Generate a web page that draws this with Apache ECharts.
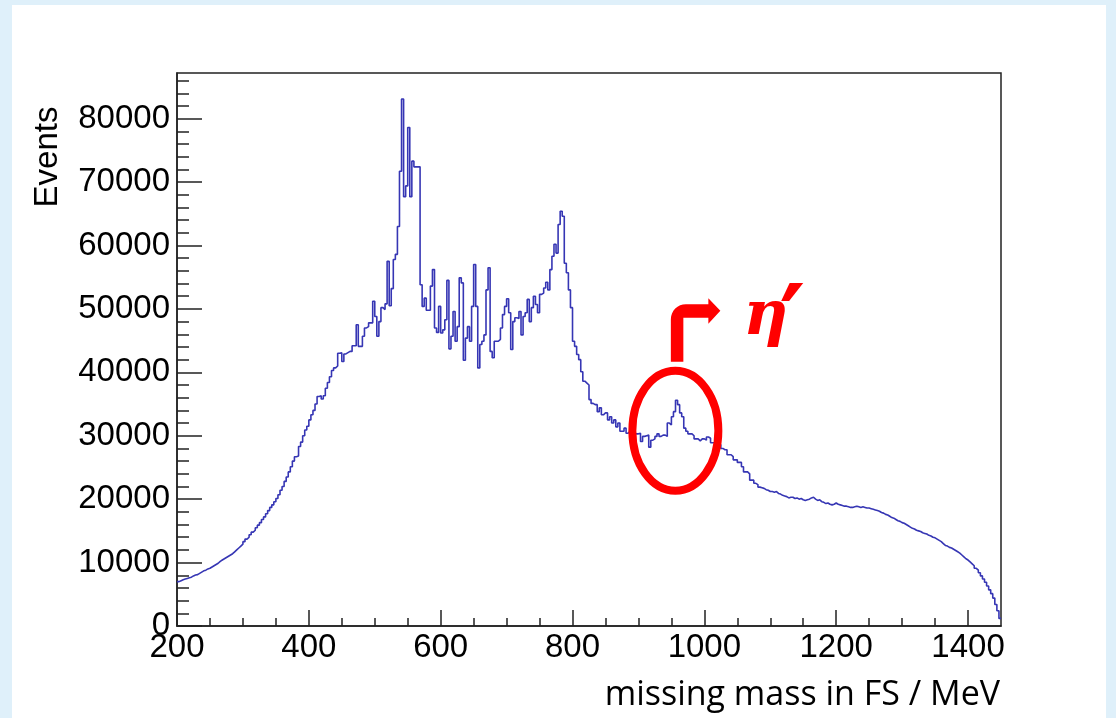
<!DOCTYPE html>
<html><head><meta charset="utf-8">
<script src="https://cdn.jsdelivr.net/npm/echarts@6/dist/echarts.min.js"></script>
<style>
html,body{margin:0;padding:0;width:1116px;height:718px;background:#dff0fa;overflow:hidden}
#panel{position:absolute;left:12px;top:5px;width:1094px;height:713px;background:#ffffff}
#chart{position:absolute;left:0;top:0;width:1116px;height:718px}
</style></head><body><div id="panel"></div><div id="chart"></div>
<script>
// ---- data ----
const BIN_START = 200;      // MeV, lower edge of first bin
const BIN_WIDTH = 3.125;    // MeV per bin
const counts = [
7000,7150,7300,7400,7500,7600,7700,7900,8050,8100,
8300,8500,8700,8800,9000,9100,9300,9500,9700,9900,
10200,10400,10600,10800,11000,11200,11400,11700,12000,12300,
12600,12900,13300,13700,14000,14400,14800,15100,15500,15900,
16300,16800,17200,17700,18200,18700,19100,19600,20100,20700,
21400,22000,22800,23500,24300,25100,26000,26700,26800,28300,
29000,30000,30900,31500,32500,33300,34000,35000,36200,36300,
35800,36300,37500,38400,39300,40300,40700,41000,43000,43100,
41700,42900,43100,43300,43300,44200,44200,47500,44100,
44100,45700,47000,47200,47800,47800,51200,48800,45700,48000,
50200,49900,50800,57500,50500,53200,57800,58600,63000,71700,
83100,67700,69400,78600,67700,73300,72400,72400,72400,53800,
50400,51700,49800,49800,53600,56200,47000,46300,50400,46200,
46700,48300,54500,43700,45700,49600,44900,47200,54900,54100,
41900,45400,47200,44900,50400,57000,50400,40700,
44400,44900,45900,53000,56500,43300,42300,44900,44900,45200,
47000,49100,50400,51600,49400,43600,48000,48600,48500,49600,
45900,48800,49400,51500,48000,50200,52000,50700,49400,52300,
52500,53300,54200,53000,56200,58300,60200,58800,63300,65400,
64600,57200,55700,53000,50200,44900,44100,42800,42000,40100,
38600,38300,38000,
35700,35100,34900,34900,33800,34400,33300,33600,33600,32500,
33000,32000,32500,31400,32000,30700,30700,31200,30400,30700,
30500,30500,30300,30300,30400,29100,29900,30000,30100,28200,
29300,29500,29900,30300,29900,30100,30100,29900,32000,31700,
33000,33800,35600,34900,33600,33000,31200,30700,30300,30300,
30000,29500,29500,29200,29500,29500,29300,29800,29600,28900,
28900,28800,28600,28600,28000,27800,27800,27000,27000,26700,
26200,26200,25800,25800,25100,24300,24300,24000,23000,23000,
22500,22300,
21900,21800,21700,21500,21400,21200,21200,21100,21200,20900,
20800,20600,20500,20400,20200,20300,20300,20100,20200,20000,
20100,19900,19800,19900,20000,20200,20300,20000,19800,19900,
19600,19500,19300,19400,19200,19100,19200,19400,19200,19100,
19000,18900,18900,18800,18700,18700,18800,18900,18800,18700,
18800,18700,18600,18600,18500,18400,18300,18200,18100,17900,
17800,17600,17500,17300,17100,17000,16800,16600,16500,16300,
16200,16000,15800,15600,15400,15300,15100,15000,14900,14700,
14600,14500,14300,14200,14000,13900,13700,13500,13300,13000,
12700,12600,12400,12300,12100,11900,11700,11500,11200,10900,
10600,10400,10100,9800,9500,9100,8800,8400,7900,7400,
6900,6300,5700,5100,4400,3400,2400,1200
];
const xRange = [200, 1450];
const yRange = [0, 87200];
const xMajorTicks = [200,400,600,800,1000,1200,1400];
const xMinorTicks = [250,300,350,450,500,550,650,700,750,850,900,950,1050,1100,1150,1250,1300,1350];
const yMajorTicks = [0,10000,20000,30000,40000,50000,60000,70000,80000];
const yMinorTicks = [2000,4000,6000,8000,12000,14000,16000,18000,22000,24000,26000,28000,
  32000,34000,36000,38000,42000,44000,46000,48000,52000,54000,56000,58000,
  62000,64000,66000,68000,72000,74000,76000,78000,82000,84000,86000];
const xTitle = 'missing mass in FS / MeV';
const yTitle = 'Events';
const peakLabel = 'η';
const peakPrime = '′';
const peakCenter = [956, 30800];   // MeV, Events : centre of the highlighted region

(function () {
// ---- build ----
const points = counts.map((v, i) => [BIN_START + i * BIN_WIDTH, v]);
points.push([BIN_START + counts.length * BIN_WIDTH, counts[counts.length - 1]]);

const AX = '#222';
const labelFont = 'Liberation Sans, Arial, sans-serif';
const plain = v => String(v);
const chart = echarts.init(document.getElementById('chart'), null, {renderer: 'canvas'});
chart.setOption({
  animation: false,
  backgroundColor: 'transparent',
  grid: {left: 177, right: 115, top: 73, bottom: 92, show: true, borderColor: AX, borderWidth: 1.5, backgroundColor: 'transparent'},
  xAxis: [
    {type: 'value', min: xRange[0], max: xRange[1], position: 'bottom',
     axisLine: {show: true, lineStyle: {color: AX, width: 1.5}},
     axisTick: {show: true, inside: true, length: 16, customValues: xMajorTicks, lineStyle: {color: AX, width: 1.5}},
     axisLabel: {show: true, customValues: xMajorTicks, formatter: plain, fontSize: 33, color: '#000', fontFamily: labelFont, margin: 5},
     splitLine: {show: false}},
    {type: 'value', min: xRange[0], max: xRange[1], position: 'bottom',
     axisLine: {show: false},
     axisTick: {show: true, inside: true, length: 8, customValues: xMinorTicks, lineStyle: {color: AX, width: 1.5}},
     axisLabel: {show: false}, splitLine: {show: false}}
  ],
  yAxis: [
    {type: 'value', min: yRange[0], max: yRange[1], position: 'left',
     axisLine: {show: true, lineStyle: {color: AX, width: 1.5}},
     axisTick: {show: true, inside: true, length: 25, customValues: yMajorTicks, lineStyle: {color: AX, width: 1.5}},
     axisLabel: {show: true, customValues: yMajorTicks, formatter: plain, fontSize: 33, color: '#000', fontFamily: labelFont, margin: 7},
     splitLine: {show: false}},
    {type: 'value', min: yRange[0], max: yRange[1], position: 'left',
     axisLine: {show: false},
     axisTick: {show: true, inside: true, length: 12, customValues: yMinorTicks, lineStyle: {color: AX, width: 1.5}},
     axisLabel: {show: false}, splitLine: {show: false}}
  ],
  series: [{
    type: 'line', xAxisIndex: 0, yAxisIndex: 0, data: points, step: 'end',
    showSymbol: false, symbol: 'none', clip: true,
    lineStyle: {color: '#3636b4', width: 1.6}
  }]
});

// annotations anchored to the data coordinates
const c = chart.convertToPixel({gridIndex: 0}, peakCenter);
const cx = c[0], cy = c[1];
const rx = 43, ry = 60;
const eTop = cy - ry;              // top of ellipse stroke centre
const s0 = cx - 4.5, s1 = cx + 8;  // stem edges
const yb = eTop - 9;               // bottom of stem
const hb = yb - 44;                // bottom of horizontal bar
const ht = hb - 13.5;              // top of horizontal bar
const R = 15;                      // outer corner radius
const arrowPts = [[s0, yb]];
for (let k = 0; k <= 8; k++) {
  const a = Math.PI + (Math.PI / 2) * (k / 8);
  arrowPts.push([s0 + R + R * Math.cos(a), ht + R + R * Math.sin(a)]);
}
arrowPts.push([cx + 33, ht], [cx + 33, ht - 6], [cx + 45, ht + 6.7], [cx + 33, hb + 6], [cx + 33, hb], [s1, hb], [s1, yb]);

chart.setOption({
  graphic: [
    {type: 'ellipse', shape: {cx: cx, cy: cy, rx: rx, ry: ry}, style: {fill: 'none', stroke: '#ff0000', lineWidth: 8}, z: 100},
    {type: 'polygon', shape: {points: arrowPts}, style: {fill: '#ff0000'}, z: 100},
    {type: 'text', x: cx + 68, y: ht - 17,
     style: {text: peakLabel, fill: '#ff0000', font: 'italic bold 62px "DejaVu Serif", serif'}, z: 100},
    {type: 'text', x: cx + 104, y: ht - 24,
     style: {text: peakPrime, fill: '#ff0000', font: 'bold 100px "DejaVu Sans", sans-serif'}, z: 100},
    {type: 'text', x: 48, y: 157, rotation: Math.PI / 2,
     style: {text: yTitle, fill: '#000', font: '33px "Liberation Sans", Arial, sans-serif', align: 'center', verticalAlign: 'middle'}},
    {type: 'text', x: 1000, y: 695,
     style: {text: xTitle, fill: '#000', font: '34px "Open Sans", sans-serif', align: 'right', verticalAlign: 'middle'}}
  ]
});
})();
</script></body></html>
